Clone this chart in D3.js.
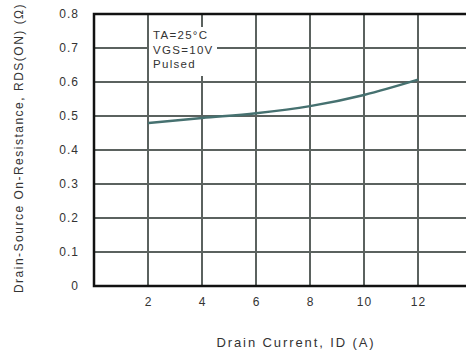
<!DOCTYPE html>
<html>
<head>
<meta charset="utf-8">
<script src="https://cdn.jsdelivr.net/npm/d3@7"></script>
<style>
body { margin: 0; background: #fff; }
svg text { font-family: "Liberation Sans", Arial, sans-serif; fill: #333; }
</style>
</head>
<body>
<div id="chart"></div>
<script>
// Rds(on) vs drain current
var currents = [2, 4, 6, 8, 10, 12];
var rdsOn = [0.479, 0.494, 0.508, 0.529, 0.562, 0.607];
var xTicks = [2, 4, 6, 8, 10, 12];
var yTicks = [0, 0.1, 0.2, 0.3, 0.4, 0.5, 0.6, 0.7, 0.8];
var notes = ["TA=25°C", "VGS=10V", "Pulsed"];

var width = 466, height = 354;
var margin = {top: 14, right: 0, bottom: 68, left: 94};

var svg = d3.select("#chart").append("svg")
  .attr("width", width)
  .attr("height", height);

var x = d3.scaleLinear().domain([0, 14]).range([margin.left, margin.left + 7 * 54]);
var y = d3.scaleLinear().domain([0, 0.8]).range([height - margin.bottom, margin.top]);

var gridColor = "#5b625f";

// grid
svg.append("g").selectAll("line.v")
  .data(xTicks)
  .enter().append("line")
  .attr("x1", d => x(d)).attr("x2", d => x(d))
  .attr("y1", y(0)).attr("y2", y(0.8))
  .attr("stroke", gridColor).attr("stroke-width", 2);

svg.append("g").selectAll("line.h")
  .data(yTicks.filter(d => d > 0 && d < 0.8))
  .enter().append("line")
  .attr("x1", x(0)).attr("x2", width)
  .attr("y1", d => y(d)).attr("y2", d => y(d))
  .attr("stroke", gridColor).attr("stroke-width", 2);

// note box hides grid behind it
svg.append("rect")
  .attr("x", 149).attr("y", 27)
  .attr("width", 68).attr("height", 49)
  .attr("fill", "#fff");

svg.append("g").selectAll("text")
  .data(notes)
  .enter().append("text")
  .attr("x", 153)
  .attr("y", (d, i) => 39 + i * 14.5)
  .attr("font-size", 11.5)
  .attr("letter-spacing", 1.3)
  .text(d => d);

// frame
svg.append("path")
  .attr("d", `M${width},${y(0.8)}H${x(0)}V${y(0)}H${width}`)
  .attr("fill", "none")
  .attr("stroke", "#111")
  .attr("stroke-width", 2.5);

// curve
var pts = currents.map((c, i) => [c, rdsOn[i]]);
svg.append("path")
  .datum(pts)
  .attr("d", d3.line().x(d => x(d[0])).y(d => y(d[1])).curve(d3.curveMonotoneX))
  .attr("fill", "none")
  .attr("stroke", "#467170")
  .attr("stroke-width", 2.5);

// tick labels
svg.append("g").selectAll("text")
  .data(xTicks)
  .enter().append("text")
  .attr("x", d => x(d) + 0.5)
  .attr("y", 306)
  .attr("text-anchor", "middle")
  .attr("font-size", 12)
  .attr("letter-spacing", 1)
  .text(d => d);

svg.append("g").selectAll("text")
  .data(yTicks)
  .enter().append("text")
  .attr("x", 79)
  .attr("y", d => y(d) + 4)
  .attr("text-anchor", "end")
  .attr("font-size", 12)
  .attr("letter-spacing", 1)
  .text(d => d === 0 ? "0" : d3.format(".1f")(d));

// axis titles
svg.append("text")
  .attr("x", 296)
  .attr("y", 347)
  .attr("text-anchor", "middle")
  .attr("font-size", 13)
  .attr("letter-spacing", 1.9)
  .text("Drain Current, ID (A)");

svg.append("text")
  .attr("transform", "translate(23,148) rotate(-90)")
  .attr("text-anchor", "middle")
  .attr("font-size", 12)
  .attr("letter-spacing", 1.5)
  .text("Drain-Source On-Resistance, RDS(ON) (\u03a9)");
</script>
</body>
</html>
